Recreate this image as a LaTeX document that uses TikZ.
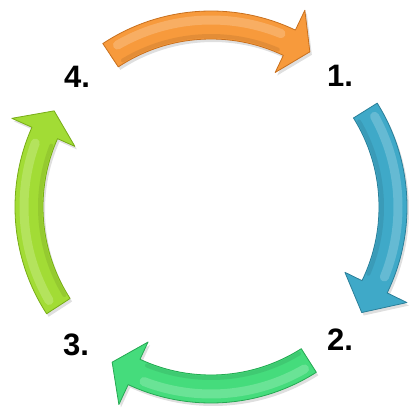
\documentclass[tikz,border=0pt]{standalone}
\usepackage{fontspec}
\setmainfont{Liberation Sans}
\usetikzlibrary{shadows}
\definecolor{arroworange}{HTML}{F79A3C}
\definecolor{orangeedge}{HTML}{C8701E}
\definecolor{arrowblue}{HTML}{3FA9C8}
\definecolor{blueedge}{HTML}{2A7F99}
\definecolor{arrowgreen}{HTML}{45DC7C}
\definecolor{greenedge}{HTML}{25A852}
\definecolor{arrowlime}{HTML}{A2DC35}
\definecolor{limeedge}{HTML}{78AD17}

\begin{document}
\begin{tikzpicture}[
  x=1pt, y=1pt,
  ringarrow/.style={line width=0.8pt, line join=round, drop shadow={opacity=0.25, shadow xshift=2pt, shadow yshift=-3pt}},
  gloss/.style={draw=white, opacity=0.2, line width=9pt, line cap=round},
  rim/.style={draw=black, opacity=0.08, line width=4pt, line cap=round},
  steplabel/.style={font=\fontsize{31}{36}\selectfont\bfseries, inner sep=0pt}
]
  \useasboundingbox (0,0) rectangle (409,407);
  \coordinate (c) at (211,200);

  % top arrow
  \path[ringarrow, fill=arroworange, draw=orangeedge, shift={(c)}]
    (123.5:196) arc[start angle=123.5, end angle=64.5, radius=196] -- (64.5:218) -- (57.5:184)
    -- (64.5:149) -- (64.5:168) arc[start angle=64.5, end angle=123.5, radius=168] -- cycle;
  \draw[gloss, shift={(c)}] (120:187) arc[start angle=120, end angle=68, radius=187];
  \draw[rim, shift={(c)}] (121:171) arc[start angle=121, end angle=67, radius=171];

  % right arrow
  \path[ringarrow, fill=arrowblue, draw=blueedge, shift={(c)}]
    (32:196) arc[start angle=32, end angle=-26, radius=196] -- (-26:218) -- (-35:184)
    -- (-26:149) -- (-26:168) arc[start angle=-26, end angle=32, radius=168] -- cycle;
  \draw[gloss, shift={(c)}] (29:187) arc[start angle=29, end angle=-22, radius=187];
  \draw[rim, shift={(c)}] (30:171) arc[start angle=30, end angle=-23, radius=171];

  % bottom arrow
  \path[ringarrow, fill=arrowgreen, draw=greenedge, shift={(c)}]
    (-57.5:196) arc[start angle=-57.5, end angle=-115, radius=196] -- (-115:218) -- (-122.5:184)
    -- (-115:149) -- (-115:168) arc[start angle=-115, end angle=-57.5, radius=168] -- cycle;
  \draw[gloss, shift={(c)}] (-60:187) arc[start angle=-60, end angle=-111, radius=187];
  \draw[rim, shift={(c)}] (-59:171) arc[start angle=-59, end angle=-112, radius=171];

  % left arrow
  \path[ringarrow, fill=arrowlime, draw=limeedge, shift={(c)}]
    (213:196) arc[start angle=213, end angle=156, radius=196] -- (156:218) -- (148.5:184)
    -- (156:149) -- (156:168) arc[start angle=156, end angle=213, radius=168] -- cycle;
  \draw[gloss, shift={(c)}] (210:187) arc[start angle=210, end angle=160, radius=187];
  \draw[rim, shift={(c)}] (211:171) arc[start angle=211, end angle=159, radius=171];

  \node[steplabel] (one) at (340,331) {1.};
  \node[steplabel] (two) at (340,67) {2.};
  \node[steplabel] (three) at (76,62) {3.};
  \node[steplabel] (four) at (77,330) {4.};
\end{tikzpicture}
\end{document}
